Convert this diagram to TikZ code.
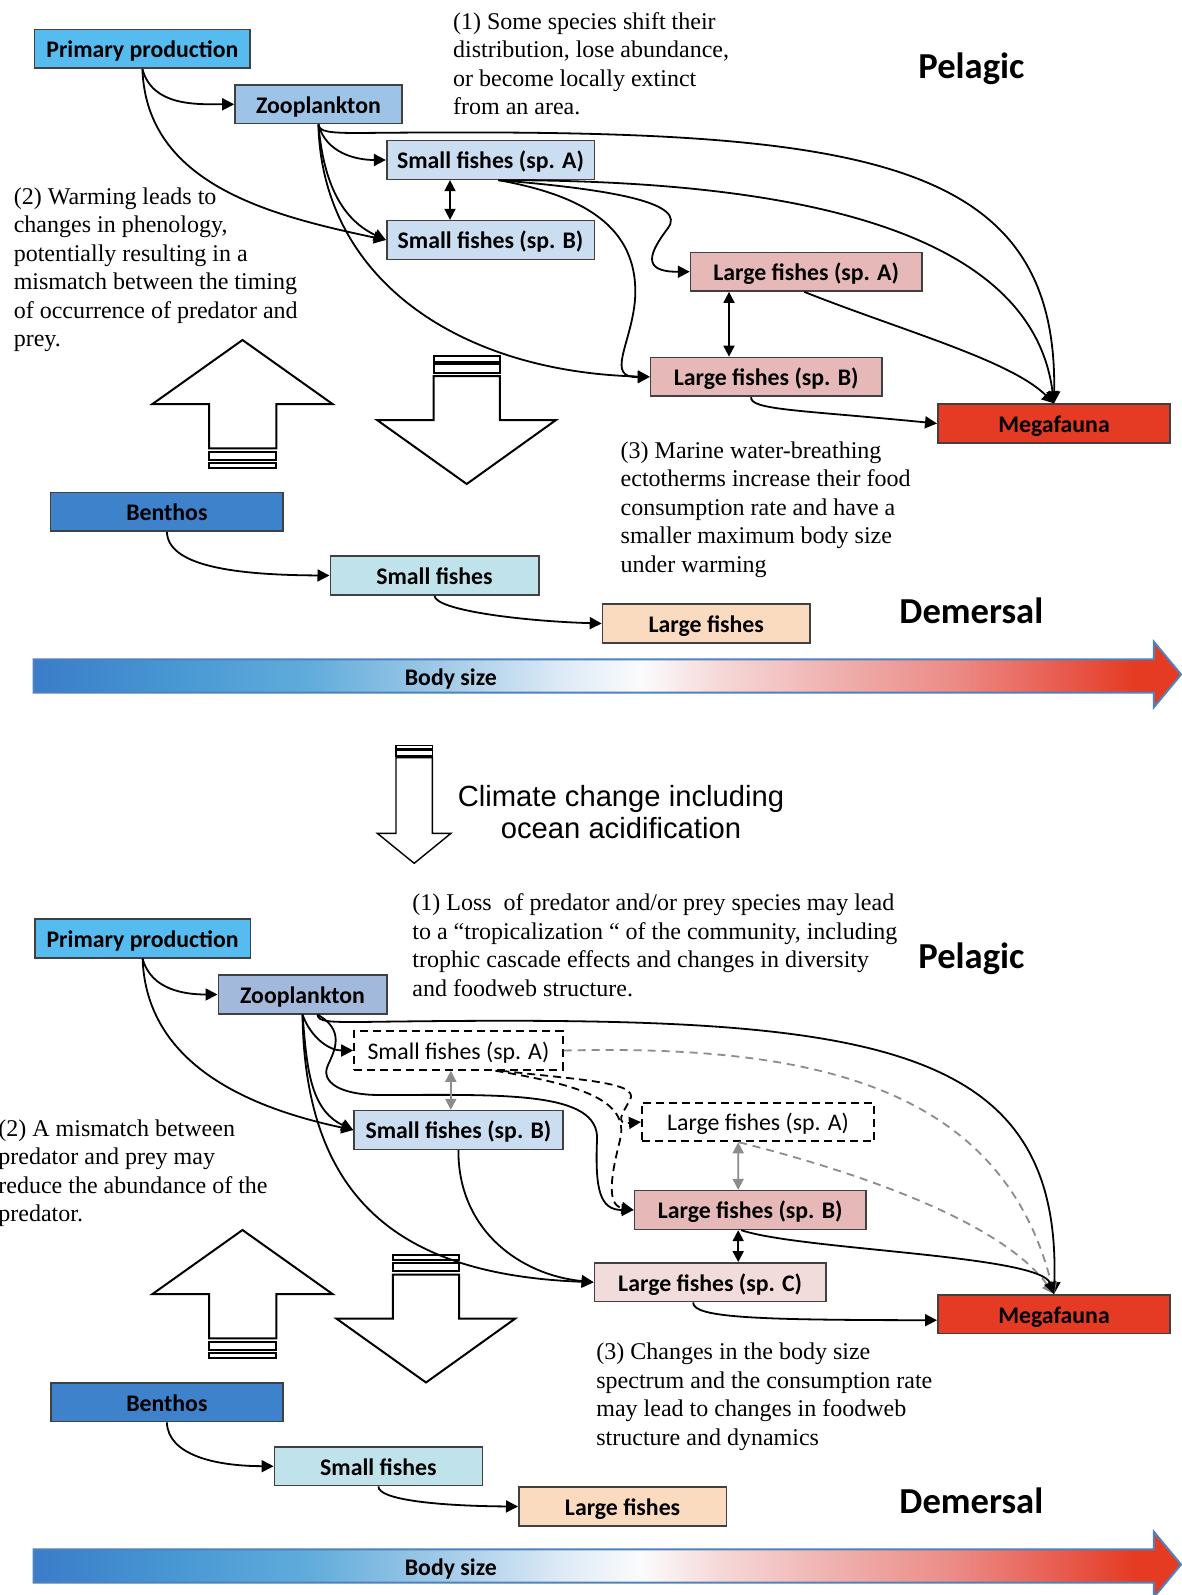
\documentclass[tikz,border=0pt]{standalone}
\usepackage{fontspec}
\usetikzlibrary{arrows.meta}

\newfontfamily\calibri{Carlito}
\newfontfamily\timesnr{Liberation Serif}
\newfontfamily\arialnr{Liberation Sans}

\definecolor{boxedge}{RGB}{64,64,64}
\definecolor{ppblue}{RGB}{86,188,239}
\definecolor{zooblue}{RGB}{157,195,230}
\definecolor{zoogrey}{RGB}{162,185,220}
\definecolor{smallblue}{RGB}{202,221,241}
\definecolor{largepink}{RGB}{230,185,184}
\definecolor{palepink}{RGB}{242,220,219}
\definecolor{megared}{RGB}{229,58,35}
\definecolor{benthblue}{RGB}{61,130,203}
\definecolor{demcyan}{RGB}{192,226,234}
\definecolor{dempeach}{RGB}{250,219,192}
\definecolor{linkgrey}{RGB}{140,140,140}
\definecolor{sizeedge}{RGB}{79,129,189}

% colours of the body size bar, left to right
\definecolor{bs0}{RGB}{58,124,200}
\definecolor{bs1}{RGB}{71,151,211}
\definecolor{bs2}{RGB}{96,172,219}
\definecolor{bs3}{RGB}{164,203,232}
\definecolor{bs4}{RGB}{221,234,246}
\definecolor{bs5}{RGB}{251,251,252}
\definecolor{bs6}{RGB}{246,215,215}
\definecolor{bs7}{RGB}{239,176,174}
\definecolor{bs8}{RGB}{236,140,135}
\definecolor{bs9}{RGB}{232,89,76}
\definecolor{bs10}{RGB}{229,59,34}
\pgfdeclarehorizontalshading{bodysize}{100bp}{color(0bp)=(bs0); color(25bp)=(bs0);
  color(31bp)=(bs1); color(37bp)=(bs2); color(43bp)=(bs3); color(48bp)=(bs4);
  color(51.5bp)=(bs5); color(55bp)=(bs6); color(60bp)=(bs7); color(65bp)=(bs8);
  color(70bp)=(bs9); color(73bp)=(bs10); color(75bp)=(bs10); color(100bp)=(bs10)}

\begin{document}
\begin{tikzpicture}[x=0.5pt, y=0.5pt,
    webbox/.style={draw=boxedge, line width=0.8pt, inner sep=0pt, minimum height=19.35pt,
        text height=8.9pt, text depth=0pt, font=\calibri\bfseries\fontsize{11.9}{14}\selectfont},
    lostbox/.style={webbox, draw=black, fill=white, line width=0.9pt, dash pattern=on 4pt off 2.5pt,
        font=\calibri\fontsize{11.9}{14}\selectfont},
    habitat/.style={anchor=base, inner sep=0pt, font=\calibri\bfseries\fontsize{18.3}{22}\selectfont},
    note/.style={anchor=north west, inner sep=0pt, align=left, font=\timesnr\fontsize{12}{14.25}\selectfont},
    conn/.style={line width=0.9pt, -{Triangle[length=6pt,width=6pt]}},
    lostconn/.style={conn, dash pattern=on 4pt off 2.5pt},
    greyconn/.style={line width=0.9pt, draw=linkgrey, dash pattern=on 4pt off 3pt,
        -{Triangle[length=6pt,width=6pt,fill=linkgrey]}},
    swap/.style={line width=0.9pt, {Triangle[length=5.5pt,width=5.5pt]}-{Triangle[length=5.5pt,width=5.5pt]}},
    greyswap/.style={swap, draw=linkgrey},
    blockarrow/.style={draw, line width=1pt, fill=white, line join=miter},
    sizearrow/.style={draw=sizeedge, line width=1pt, shading=bodysize}]

    \path[use as bounding box, fill=white] (0,0) rectangle (1182,-1595);

    % Body size arrows and Trophic arrows (the same in both panels)
    \foreach \dy in {0,890} {
        \draw[sizearrow] (33.7,-659.3-\dy) -- (1153.8,-659.3-\dy) -- (1153.8,-641.7-\dy)
            -- (1181,-674.5-\dy) -- (1153.8,-707.3-\dy) -- (1153.8,-692.7-\dy)
            -- (33.7,-692.7-\dy) -- cycle;
        \node[webbox, draw=none, anchor=base] (size\dy) at (450.8,-685-\dy) {Body size};

        \begin{scope}[shift={(0,-\dy)}]
            \draw[blockarrow] (242.5,-340) -- (332.5,-404) -- (276.3,-404) -- (276.3,-448.3)
                -- (209,-448.3) -- (209,-404) -- (152.5,-404) -- cycle;
            \draw[blockarrow] (209,-451.5) rectangle (276.3,-459.5);
            \draw[blockarrow] (209,-462.5) rectangle (276.3,-468);
        \end{scope}
    }

    % Downward arrows
    \foreach \sx/\sy in {0/0,-40.7/-898.5} {
        \begin{scope}[shift={(\sx,\sy)}]
            \draw[blockarrow] (433.6,-356) rectangle (499.8,-361.5);
            \draw[blockarrow] (433.6,-364.3) rectangle (499.8,-372.7);
            \draw[blockarrow] (433.6,-376) -- (499.8,-376) -- (499.8,-420) -- (556,-420)
                -- (466.7,-484) -- (377,-420) -- (433.6,-420) -- cycle;
        \end{scope}
    }

    % Climate change arrow
    \draw[blockarrow, line width=0.7pt] (396,-745.7) rectangle (432.3,-749);
    \draw[blockarrow, line width=0.7pt] (396,-750.7) rectangle (432.3,-756);
    \draw[blockarrow, line width=0.7pt] (396,-757.7) -- (432.3,-757.7) -- (432.3,-833.3)
        -- (451,-833.3) -- (414.2,-863.3) -- (377.3,-833.3) -- (396,-833.3) -- cycle;
    \node[align=center, inner sep=0pt, font=\arialnr\fontsize{14.6}{16.3}\selectfont] (cc)
        at (621,-812) {Climate change including\\ocean acidification};

    % Present: pelagic web
    \node[webbox, fill=ppblue, minimum width=107.8pt] (pp) at (142.4,-48.9) {Primary production};
    \node[webbox, fill=zooblue, minimum width=83.4pt] (zoo) at (318.4,-104.3) {Zooplankton};
    \node[webbox, fill=smallblue, minimum width=103.8pt] (sfa) at (490.5,-160) {Small fishes (sp. A)};
    \node[webbox, fill=smallblue, minimum width=103.8pt] (sfb) at (490.5,-240) {Small fishes (sp. B)};
    \node[webbox, fill=largepink, minimum width=115.6pt] (lfa) at (806.2,-271.7) {Large fishes (sp. A)};
    \node[webbox, fill=largepink, minimum width=115.6pt] (lfb) at (766.2,-376.8) {Large fishes (sp. B)};
    \node[webbox, fill=megared, minimum width=116.2pt] (mega) at (1054,-423.5) {Megafauna};

    % Present: demersal web
    \node[webbox, fill=benthblue, minimum width=116.3pt] (benth) at (166.9,-511.7) {Benthos};
    \node[webbox, fill=demcyan, minimum width=104.2pt] (dsf) at (434.5,-575.5) {Small fishes};
    \node[webbox, fill=dempeach, minimum width=103.8pt] (dlf) at (706.3,-623.5) {Large fishes};

    \node[habitat] (pel) at (971.4,-78.3) {Pelagic};
    \node[habitat] (dem) at (971.4,-623) {Demersal};

    \node[note] (n1) at (452.7,-12) {(1) Some species shift their\\distribution, lose abundance,\\or become locally extinct\\from an area.};
    \node[note] (n2) at (13.4,-187) {(2) Warming leads to\\changes in phenology,\\potentially resulting in a\\mismatch between the timing\\of occurrence of predator and\\prey.};
    \node[note] (n3) at (620.3,-441) {(3) Marine water-breathing\\ectotherms increase their food\\consumption rate and have a\\smaller maximum body size\\under warming};

    % Present: links
    \draw[conn] (pp.south) to[out=-75,in=180] (zoo.west);
    \draw[conn] (pp.south) to[out=-88,in=168] (sfb.west);
    \draw[conn] (zoo.south) to[out=-75,in=180] (sfa.west);
    \draw[conn] (zoo.south) to[out=-85,in=155] (sfb.west);
    \draw[conn] (zoo.south) .. controls (322,-280) and (460,-372) .. (lfb.west);
    \draw[conn] (zoo.south) .. controls (319,-132) and (330,-133) .. (360,-133)
        .. controls (850,-128) and (1058,-150) .. (mega.north);
    \draw[conn] ([xshift=4pt]sfa.south) .. controls (750,-180) and (1030,-215) .. (mega.north);
    \draw[conn] ([xshift=4pt]sfa.south) .. controls (620,-190) and (686,-204) .. (668,-228)
        .. controls (650,-252) and (640,-272) .. (lfa.west);
    \draw[conn] ([xshift=4pt]sfa.south) .. controls (580,-195) and (640,-225) .. (635,-300)
        .. controls (631,-345) and (605,-378) .. (lfb.west);
    \draw[swap] ([xshift=-20.25pt]sfa.south) -- ([xshift=-20.25pt]sfb.north);
    \draw[swap] ([xshift=-38.6pt]lfa.south) -- ([xshift=-18.6pt]lfb.north);
    \draw[conn] ([xshift=-1pt]lfa.south) .. controls (900,-330) and (1010,-360) .. (mega.north);
    \draw[conn] ([xshift=-7.5pt]lfb.south) .. controls (749,-410) and (800,-410) .. (mega.west);
    \draw[conn] (benth.south) .. controls (168,-565) and (230,-575) .. (dsf.west);
    \draw[conn] (dsf.south) .. controls (435,-610) and (520,-621) .. (dlf.west);

    % Future: pelagic web
    \node[webbox, fill=ppblue, minimum width=107.8pt] (pp2) at (142.6,-938.5) {Primary production};
    \node[webbox, fill=zoogrey, minimum width=84.2pt] (zoo2) at (302.5,-994.5) {Zooplankton};
    \node[lostbox, minimum width=104.3pt] (sfa2) at (458.4,-1050.5) {Small fishes (sp. A)};
    \node[webbox, fill=smallblue, minimum width=104.3pt] (sfb2) at (458.4,-1130) {Small fishes (sp. B)};
    \node[lostbox, minimum width=116.2pt] (lfa2) at (758,-1122) {Large fishes (sp. A)};
    \node[webbox, fill=largepink, minimum width=115.8pt] (lfb2) at (750.2,-1210) {Large fishes (sp. B)};
    \node[webbox, fill=palepink, minimum width=115.8pt] (lfc2) at (710.2,-1282.2) {Large fishes (sp. C)};
    \node[webbox, fill=megared, minimum width=116.2pt] (mega2) at (1054,-1314.2) {Megafauna};

    % Future: demersal web
    \node[webbox, fill=benthblue, minimum width=116pt] (benth2) at (166.9,-1402.2) {Benthos};
    \node[webbox, fill=demcyan, minimum width=104pt] (dsf2) at (378.4,-1466.2) {Small fishes};
    \node[webbox, fill=dempeach, minimum width=103.8pt] (dlf2) at (622.6,-1506.5) {Large fishes};

    \node[habitat] (pel2) at (971.4,-968.3) {Pelagic};
    \node[habitat] (dem2) at (971.4,-1513.5) {Demersal};

    \node[note] (m1) at (412,-893.5) {(1) Loss~ of predator and/or prey species may lead\\to a “tropicalization “ of the community, including\\trophic cascade effects and changes in diversity\\and foodweb structure.};
    \node[note] (m2) at (-2,-1119) {(2) A mismatch between\\predator and prey may\\reduce the abundance of the\\predator.};
    \node[note] (m3) at (596,-1342.6) {(3) Changes in the body size\\spectrum and the consumption rate\\may lead to changes in foodweb\\structure and dynamics};

    % Future: links
    \draw[conn] (pp2.south) to[out=-75,in=180] (zoo2.west);
    \draw[conn] (pp2.south) to[out=-88,in=168] (sfb2.west);
    \draw[conn] (zoo2.south) to[out=-70,in=180] (sfa2.west);
    \draw[conn] (zoo2.south) to[out=-85,in=155] (sfb2.west);
    \draw[conn] (zoo2.south) .. controls (305,-1200) and (400,-1275) .. (lfc2.west);
    \draw[conn] ([xshift=7.5pt]zoo2.south) .. controls (318,-1022) and (330,-1022) .. (360,-1022)
        .. controls (850,-1015) and (1062,-1030) .. (mega2.north);
    \draw[conn] ([xshift=7.5pt]zoo2.south) .. controls (345,-1030) and (335,-1050) .. (328,-1065)
        .. controls (320,-1082) and (340,-1095) .. (380,-1095)
        .. controls (500,-1095) and (600,-1090) .. (597,-1140)
        .. controls (595,-1190) and (600,-1210) .. (lfb2.west);
    \draw[conn] (sfb2.south) .. controls (458,-1230) and (520,-1275) .. (lfc2.west);
    \draw[lostconn] ([xshift=21.5pt]sfa2.south) .. controls (580,-1080) and (640,-1082) .. (630,-1100)
        .. controls (622,-1114) and (615,-1124) .. (lfa2.west);
    \draw[lostconn] ([xshift=18.5pt]sfa2.south) .. controls (580,-1085) and (630,-1100) .. (620,-1140)
        .. controls (612.5,-1170) and (605,-1205) .. (lfb2.west);
    \draw[greyconn] (sfa2.east) .. controls (800,-1045) and (1000,-1080) .. (mega2.north);
    \draw[greyconn] ([xshift=-9.5pt]lfa2.south) .. controls (850,-1170) and (1000,-1220) .. (mega2.north);
    \draw[greyswap] ([xshift=-3.8pt]sfa2.south) -- ([xshift=-3.8pt]sfb2.north);
    \draw[greyswap] ([xshift=-9.9pt]lfa2.south) -- ([xshift=-6pt]lfb2.north);
    \draw[swap] ([xshift=-6pt]lfb2.south) -- ([xshift=14pt]lfc2.north);
    \draw[conn] ([xshift=-4.5pt]lfb2.south) .. controls (800,-1250) and (1040,-1255) .. (mega2.north);
    \draw[conn] ([xshift=-8.5pt]lfc2.south) .. controls (692,-1318) and (760,-1320) .. ([yshift=-3pt]mega2.west);
    \draw[conn] (benth2.south) .. controls (168,-1455) and (215,-1466) .. (dsf2.west);
    \draw[conn] (dsf2.south) .. controls (378,-1500) and (440,-1506) .. (dlf2.west);
\end{tikzpicture}
\end{document}
